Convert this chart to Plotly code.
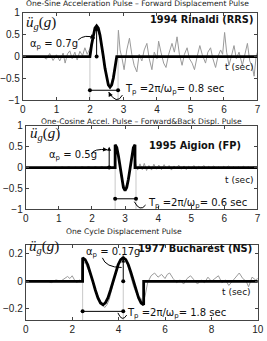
import plotly.graph_objects as go

# ---------------- data ----------------
# Panel 1: 1994 Rinaldi (RRS), one-sine pulse
t1_pulse = [0.0, 2.0, 2.05, 2.1, 2.15, 2.2, 2.25, 2.3, 2.35, 2.4, 2.45, 2.5, 2.55, 2.6, 2.65, 2.7, 2.75, 2.8, 7.0]
a1_pulse = [0, 0, 0.27, 0.49, 0.65, 0.7, 0.65, 0.49, 0.27, 0, -0.27, -0.49, -0.65, -0.7, -0.65, -0.49, -0.27, 0, 0]
t1_rec = [0.6, 0.7, 0.8, 0.9, 1.0, 1.1, 1.2, 1.26, 1.33, 1.4, 1.47, 1.55, 1.62, 1.7, 1.78, 1.85, 1.92, 2.0,
          2.08, 2.15, 2.22, 2.3, 2.38, 2.45, 2.52, 2.6, 2.68, 2.76, 2.82, 2.85, 2.9, 2.96, 3.02, 3.1, 3.18,
          3.25, 3.32, 3.4, 3.47, 3.55, 3.62, 3.7, 3.77, 3.85, 3.92, 4.0, 4.05, 4.12, 4.2, 4.27, 4.35, 4.45,
          4.52, 4.6, 4.67, 4.75, 4.82, 4.9, 4.97, 5.05, 5.12, 5.2, 5.28, 5.35, 5.45, 5.52, 5.6, 5.67, 5.75,
          5.82, 5.9, 5.96, 6.02, 6.08, 6.15, 6.22, 6.3, 6.37, 6.45, 6.55, 6.62, 6.7, 6.77, 6.85, 6.9, 6.96, 7.0]
a1_rec = [0, -0.06, 0.07, -0.09, 0.04, -0.1, 0.08, -0.15, 0.06, 0.13, -0.05, 0.1, -0.08, 0.12, 0.02, 0.2, 0.05, 0.18,
          0.4, 0.6, 0.62, 0.45, 0.1, -0.3, -0.55, -0.68, -0.5, -0.15, 0.05, 0.6, 0.15, -0.05, -0.3, 0.15, 0.42,
          0.05, -0.2, -0.35, 0.05, -0.1, 0.15, 0.3, -0.05, -0.3, 0.1, -0.05, 0.35, 0.1, -0.15, -0.25, 0.05, 0.3,
          0.1, 0.45, 0.05, -0.2, 0.05, 0.2, -0.05, -0.15, -0.3, 0.0, 0.25, 0.05, -0.15, 0.1, 0.2, -0.05, -0.25,
          0.0, 0.15, 0.05, 0.55, 0.1, -0.2, 0.0, 0.25, -0.05, 0.1, -0.2, 0.05, 0.3, -0.1, -0.25, -0.45, 0.0, 0.1]

# Panel 2: 1995 Aigion (FP), one-cosine pulse
t2_pulse = [0.0, 2.7, 2.7, 2.75, 2.8, 2.85, 2.9, 2.95, 3.0, 3.05, 3.1, 3.15, 3.2, 3.25, 3.3, 3.3, 7.0]
a2_pulse = [0, 0, 0.55, 0.48, 0.28, 0, -0.28, -0.48, -0.55, -0.48, -0.28, 0, 0.28, 0.48, 0.55, 0, 0]
t2_rec = [0.8, 0.9, 1.0, 1.1, 1.2, 1.3, 1.4, 1.5, 1.6, 1.7, 1.8, 1.9, 2.0, 2.1, 2.2, 2.3, 2.4, 2.5, 2.6, 2.68,
          2.72, 2.8, 2.9, 3.0, 3.1, 3.2, 3.28, 3.33, 3.38, 3.45, 3.52, 3.58, 3.65, 3.72, 3.8, 3.87, 3.95, 4.02,
          4.1, 4.18, 4.25, 4.33, 4.4, 4.48, 4.55, 4.62, 4.7, 4.78, 4.85, 4.92, 5.0, 5.08, 5.15, 5.22, 5.3, 5.38,
          5.45, 5.52, 5.6, 5.68, 5.75, 5.82, 5.9, 5.98, 6.05, 6.12, 6.2, 6.28, 6.35, 6.42, 6.5, 6.58, 6.65, 6.72,
          6.8, 6.88, 6.95, 7.0]
a2_rec = [0, 0.01, -0.01, 0.015, -0.01, 0.02, -0.015, 0.01, -0.02, 0.02, -0.01, 0.025, -0.02, 0.02, -0.015, 0.025, -0.02, 0.03, -0.01, 0.02,
          0.45, 0.25, -0.3, -0.5, -0.3, 0.25, 0.5, 0.1, -0.06, 0.09, -0.05, 0.1, -0.07, 0.05, -0.06, 0.08, -0.04, 0.06,
          -0.05, 0.07, -0.03, 0.05, -0.06, 0.04, -0.03, 0.06, -0.04, 0.04, -0.05, 0.03, -0.03, 0.05, -0.04, 0.03, -0.02, 0.05,
          -0.03, 0.03, -0.02, 0.04, -0.03, 0.02, -0.03, 0.03, -0.02, 0.04, -0.02, 0.02, -0.03, 0.02, -0.02, 0.03, -0.02, 0.02,
          -0.02, 0.02, -0.01, 0.01]

# Panel 3: 1977 Bucharest (NS), one-cycle displacement pulse
t3_pulse = [0.0, 2.45, 2.45, 2.56, 2.67, 2.78, 2.89, 3.0, 3.11, 3.22, 3.33, 3.43, 3.54, 3.65, 3.76, 3.87, 3.98,
            4.09, 4.2, 4.31, 4.42, 4.53, 4.64, 4.75, 4.86, 4.97, 5.08, 5.08, 10.0]
a3_pulse = [0, 0, 0.17, 0.157, 0.12, 0.065, 0, -0.065, -0.12, -0.157, -0.17, -0.157, -0.12, -0.065, 0, 0.065, 0.12,
            0.157, 0.17, 0.157, 0.12, 0.065, 0, -0.065, -0.12, -0.157, -0.17, 0, 0]
t3_rec = [0.6, 0.9, 1.1, 1.3, 1.5, 1.7, 1.8, 1.9, 2.0, 2.1, 2.2, 2.3, 2.4, 2.45, 2.6, 2.8, 3.0, 3.2, 3.4, 3.5,
          3.6, 3.75, 3.9, 4.05, 4.2, 4.35, 4.5, 4.65, 4.8, 4.95, 5.05, 5.15, 5.25, 5.4, 5.55, 5.7, 5.85, 6.0,
          6.1, 6.2, 6.35, 6.5, 6.65, 6.8, 6.95, 7.1, 7.25, 7.4, 7.55, 7.7, 7.85, 8.0, 8.15, 8.3, 8.45, 8.6,
          8.75, 8.9, 9.05, 9.2, 9.35, 9.5, 9.6, 9.75, 9.9, 10.0]
a3_rec = [0, 0.005, -0.01, 0.01, 0.0, 0.02, 0.035, 0.02, 0.04, 0.01, -0.01, 0.01, 0.0, 0.15, 0.12, 0.04, -0.06, -0.15, -0.19, -0.17,
          -0.13, -0.03, 0.08, 0.15, 0.19, 0.14, 0.05, -0.04, -0.1, -0.12, -0.16, -0.1, -0.01, 0.04, 0.06, 0.03, 0.05, 0.02,
          0.05, 0.06, 0.02, -0.01, 0.01, -0.02, 0.02, 0.04, 0.01, -0.02, 0.01, -0.01, 0.03, 0.0, 0.02, 0.04, -0.01, 0.01,
          -0.03, 0.0, 0.03, 0.06, 0.02, 0.0, -0.04, 0.03, 0.01, 0.02]

titles = ["One-Sine Acceleration Pulse – Forward Displacement Pulse",
          "One-Cosine Accel. Pulse – Forward&Back Displ. Pulse",
          "One Cycle Displacement Pulse"]
names = ["1994 Rinaldi (RRS)", "1995 Aigion (FP)", "1977 Bucharest (NS)"]
ap_labels = ["0.7g", "0.5g", "0.17g"]
tp_labels = ["0.8 sec", "0.6 sec", "1.8 sec"]

# ---------------- figure ----------------
W, H = 267, 341
FONT = "DejaVu Sans"
AXC = "#444444"
GRAY = "#9a9a9a"
GUIDE = "#c8c8c8"

fig = go.Figure()

def px_x(p):
    return p / W

def px_y(p):
    return 1 - p / H

axes = [
    dict(xd=[px_x(17.7), px_x(263.3)], yd=[px_y(98.5), px_y(8)], xr=[0, 7], yr=[-1, 1],
         xt=[0, 1, 2, 3, 4, 5, 6, 7], yt=[-1, -0.5, 0, 0.5, 1]),
    dict(xd=[px_x(20.7), px_x(263.3)], yd=[px_y(211), px_y(125)], xr=[0, 7], yr=[-1, 1],
         xt=[0, 1, 2, 3, 4, 5, 6, 7], yt=[-1, -0.5, 0, 0.5, 1]),
    dict(xd=[px_x(20.7), px_x(263.7)], yd=[px_y(325.7), px_y(248)], xr=[0, 10], yr=[-0.282, 0.263],
         xt=[0, 2, 4, 6, 8, 10], yt=[-0.2, 0, 0.2]),
]

layout = dict(width=W, height=H, margin=dict(l=0, r=0, t=0, b=0),
              paper_bgcolor="white", plot_bgcolor="white", showlegend=False,
              font=dict(family=FONT, size=10, color="#222"))

for i, a in enumerate(axes):
    sfx = "" if i == 0 else str(i + 1)
    common = dict(showgrid=False, zeroline=False, showline=True, linecolor=AXC, linewidth=1,
                  mirror="ticks", ticks="inside", ticklen=3, tickcolor=AXC,
                  tickfont=dict(family="Liberation Sans", size=10, color="#222"))
    layout["xaxis" + sfx] = dict(domain=a["xd"], range=a["xr"], tickvals=a["xt"],
                                 anchor="y" + sfx, **common)
    layout["yaxis" + sfx] = dict(domain=a["yd"], range=a["yr"], tickvals=a["yt"],
                                 anchor="x" + sfx, **common)
fig.update_layout(**layout)

records = [(t1_rec, a1_rec), (t2_rec, a2_rec), (t3_rec, a3_rec)]
pulses = [(t1_pulse, a1_pulse), (t2_pulse, a2_pulse), (t3_pulse, a3_pulse)]

# guide lines (vertical)
guides = [
    [(2.0, -1, 0), (2.84, -1, 0)],
    [(2.7, -1, 0), (3.33, -1, 0)],
    [(2.45, -0.282, 0.17), (4.2, -0.282, 0)],
]
shapes = []
for i, gl in enumerate(guides):
    sfx = "" if i == 0 else str(i + 1)
    for (x, y0, y1) in gl:
        shapes.append(dict(type="line", xref="x" + sfx, yref="y" + sfx, x0=x, x1=x, y0=y0, y1=y1,
                           line=dict(color=GUIDE, width=1), layer="below"))

for i in range(3):
    sfx = "" if i == 0 else str(i + 1)
    fig.add_trace(go.Scatter(x=records[i][0], y=records[i][1], mode="lines",
                             line=dict(color=GRAY, width=1), xaxis="x" + sfx, yaxis="y" + sfx,
                             hoverinfo="skip"))
    fig.add_trace(go.Scatter(x=pulses[i][0], y=pulses[i][1], mode="lines",
                             line=dict(color="black", width=2.8), xaxis="x" + sfx, yaxis="y" + sfx,
                             hoverinfo="skip"))

# Tp double arrows (line with end dots)
tp_spans = [(2.0, 2.84, -0.77), (2.7, 3.33, -0.75), (2.45, 4.2, -0.218)]
for i, (x0, x1, y) in enumerate(tp_spans):
    sfx = "" if i == 0 else str(i + 1)
    fig.add_trace(go.Scatter(x=[x0, x1], y=[y, y], mode="lines+markers",
                             line=dict(color="black", width=1), marker=dict(size=4, color="black"),
                             xaxis="x" + sfx, yaxis="y" + sfx, hoverinfo="skip"))

# ap vertical arrows with base dot
ap_lines = [(2.2, 0.0, 0.68), (2.52, 0.0, 0.5), (4.2, 0.0, 0.165)]
annotations = []
for i, (x, y0, y1) in enumerate(ap_lines):
    sfx = "" if i == 0 else str(i + 1)
    fig.add_trace(go.Scatter(x=[x], y=[y0], mode="markers", marker=dict(size=4, color="black"),
                             xaxis="x" + sfx, yaxis="y" + sfx, hoverinfo="skip"))
    annotations.append(dict(xref="x" + sfx, yref="y" + sfx, axref="x" + sfx, ayref="y" + sfx,
                            x=x, y=y1, ax=x, ay=y0, showarrow=True, arrowhead=2, arrowsize=0.8,
                            arrowwidth=1, arrowcolor="black", text=""))

# curved arrows: (path start, control, end) and arrowhead tail point
curves = [
    ((1.65, 0.38), (1.85, 0.52), (2.15, 0.42), (2.07, 0.445)),
    ((1.98, 0.33), (2.05, 0.46), (2.47, 0.43), (2.38, 0.435)),
    ((3.3, 0.17), (3.45, 0.1), (4.13, 0.1), (4.03, 0.1)),
    ((2.97, -0.88), (2.8, -1.12), (2.56, -0.81), (2.6, -0.87)),
    ((3.62, -0.9), (3.45, -1.08), (3.28, -0.82), (3.31, -0.87)),
    ((4.35, -0.245), (4.15, -0.3), (3.97, -0.229), (4.01, -0.242)),
]
curve_panel = [0, 1, 2, 0, 1, 2]
for (p0, c, p1, tail), pi in zip(curves, curve_panel):
    sfx = "" if pi == 0 else str(pi + 1)
    shapes.append(dict(type="path", xref="x" + sfx, yref="y" + sfx,
                       path=f"M {p0[0]},{p0[1]} Q {c[0]},{c[1]} {p1[0]},{p1[1]}",
                       line=dict(color="black", width=1)))
    annotations.append(dict(xref="x" + sfx, yref="y" + sfx, axref="x" + sfx, ayref="y" + sfx,
                            x=p1[0], y=p1[1], ax=tail[0], ay=tail[1], showarrow=True, arrowhead=2,
                            arrowsize=0.9, arrowwidth=1, arrowcolor="black", text=""))

# text annotations per panel
txt = [
    dict(ug=(0.04, 0.77), name=(6.93, 0.84), ap=(0.15, 0.27), tp=(3.0, -0.76), ts=(6.95, -0.23)),
    dict(ug=(0.07, 0.81), name=(6.56, 0.53), ap=(0.63, 0.28), tp=(3.63, -0.87), ts=(6.95, -0.29)),
    dict(ug=(0.05, 0.25), name=(9.85, 0.237), ap=(2.5, 0.21), tp=(4.29, -0.235), ts=(9.8, -0.074)),
]
for i, d in enumerate(txt):
    sfx = "" if i == 0 else str(i + 1)
    base = dict(xref="x" + sfx, yref="y" + sfx, showarrow=False, yanchor="middle")
    annotations.append(dict(base, x=d["ug"][0], y=d["ug"][1], xanchor="left",
                            text="<i>ü</i><sub><i>g</i></sub>(<i>g</i>)",
                            font=dict(family="Liberation Serif", size=15, color="#111")))
    annotations.append(dict(base, x=d["name"][0], y=d["name"][1], xanchor="right",
                            text=f"<b>{names[i]}</b>",
                            font=dict(family=FONT, size=9.8, color="#111")))
    annotations.append(dict(base, x=d["ap"][0], y=d["ap"][1], xanchor="left",
                            text=f"α<sub>p</sub> = {ap_labels[i]}",
                            font=dict(family=FONT, size=10, color="#111")))
    annotations.append(dict(base, x=d["tp"][0], y=d["tp"][1], xanchor="left",
                            text=f"T<sub>p</sub> =2π/ω<sub>p</sub>= {tp_labels[i]}",
                            font=dict(family=FONT, size=10, color="#111")))
    annotations.append(dict(base, x=d["ts"][0], y=d["ts"][1], xanchor="right",
                            text="t (sec)", font=dict(family=FONT, size=9, color="#111")))

# panel titles
title_pos = [(137.7, -1.5), (141.7, 120), (123.7, 234)]
for i, (px, py) in enumerate(title_pos):
    annotations.append(dict(xref="paper", yref="paper", x=px_x(px), y=px_y(py), xanchor="center",
                            yanchor="middle", showarrow=False, text=titles[i],
                            font=dict(family=FONT, size=7.6, color="#222")))

fig.update_layout(shapes=shapes, annotations=annotations)
fig.write_html("out.html")
